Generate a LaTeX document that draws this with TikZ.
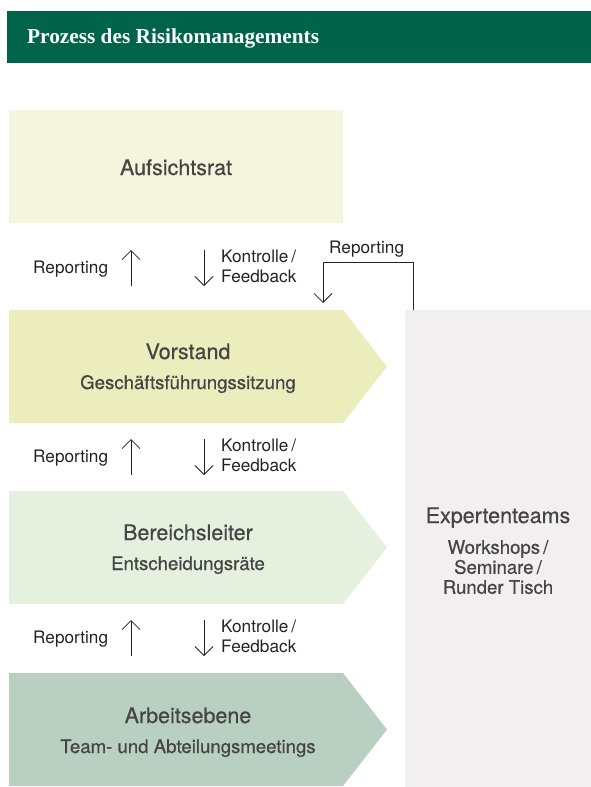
\documentclass[tikz,border=0pt]{standalone}
\usepackage{fontspec}
\setmainfont{TeX Gyre Heros}
\newfontfamily\boxfont[FakeBold=0.6]{TeX Gyre Heros}
\newfontfamily\headfont{Liberation Serif}
\usetikzlibrary{arrows.meta}

\definecolor{headgreen}{HTML}{00644A}
\definecolor{boardfill}{HTML}{F3F6DC}
\definecolor{execfill}{HTML}{EBEDBD}
\definecolor{divfill}{HTML}{E6F0DF}
\definecolor{workfill}{HTML}{B8CFC2}
\definecolor{expertfill}{HTML}{F1EFF0}
\definecolor{boxtext}{HTML}{454545}
\definecolor{labeltext}{HTML}{222222}

\tikzset{
  boxtitle/.style={text=boxtext, font=\boxfont\fontsize{21.5}{24}\selectfont, inner sep=0pt, anchor=base},
  boxsub/.style={text=boxtext, font=\boxfont\fontsize{18.6}{20}\selectfont, inner sep=0pt, anchor=base},
  flowlabel/.style={text=labeltext, font=\fontsize{17.2}{20}\selectfont, inner sep=0pt, anchor=base west},
  flowarrow/.style={draw=labeltext, line width=0.8pt, -{Straight Barb[length=9pt,width=18pt,line width=0.8pt]}},
}

\begin{document}
\begin{tikzpicture}[x=1pt, y=-1pt]
  \useasboundingbox (0,0) rectangle (591,787);

  % title bar
  \fill[headgreen] (7,11) rectangle (591,63);
  \node[text=white, font=\headfont\bfseries\fontsize{21.3}{25}\selectfont, inner sep=0pt, anchor=base west] (title) at (27,43) {Prozess des Risikomanagements};

  % supervisory board
  \fill[boardfill] (9,110) rectangle (343,223);
  \node[boxtitle] (board) at (176,175) {Aufsichtsrat};

  % management levels drawn as chevrons
  \fill[execfill] (9,310) -- (343,310) -- (387,366.5) -- (343,423) -- (9,423) -- cycle;
  \node[boxtitle] (exec) at (188,359) {Vorstand};
  \node[boxsub] (execsub) at (188,389) {Geschäftsführungssitzung};

  \fill[divfill] (9,491) -- (343,491) -- (387,547.5) -- (343,604) -- (9,604) -- cycle;
  \node[boxtitle] (div) at (188,540) {Bereichsleiter};
  \node[boxsub] (divsub) at (188,570) {Entscheidungsräte};

  \fill[workfill] (9,673) -- (343,673) -- (387,729.5) -- (343,786) -- (9,786) -- cycle;
  \node[boxtitle] (work) at (188,723) {Arbeitsebene};
  \node[boxsub] (worksub) at (188,753) {Team- und Abteilungsmeetings};

  % expert teams column
  \fill[expertfill] (405,310) rectangle (591,787);
  \node[boxtitle] (expert) at (498,523) {Expertenteams};
  \node[boxsub, anchor=north, align=center, font=\boxfont\fontsize{18.6}{20}\selectfont] (expertsub) at (498,540) {Workshops\,/\\Seminare\,/\\Runder Tisch};

  % reporting and control between the levels
  \foreach \y/\n in {250/a, 439/b, 620/c}{
    \coordinate (up\n-s) at (131,\y+36);
    \coordinate (up\n-e) at (131,\y);
    \coordinate (dn\n-s) at (204,\y);
    \coordinate (dn\n-e) at (204,\y+36);
    \draw[flowarrow] (up\n-s) -- (up\n-e);
    \draw[flowarrow] (dn\n-s) -- (dn\n-e);
    \node[flowlabel] (rep\n) at (33,\y+23) {Reporting};
    \node[flowlabel] (ctl\n) at (221,\y+12) {Kontrolle\,/};
    \node[flowlabel] (fb\n) at (221,\y+32) {Feedback};
  }

  % reporting from the expert teams back to the board
  \coordinate (exptop) at (413,310);
  \coordinate (execin) at (323,303);
  \draw[flowarrow] (exptop) -- (413,262) -- (323,262) -- (execin);
  \node[flowlabel] (repx) at (329,253) {Reporting};
\end{tikzpicture}
\end{document}
